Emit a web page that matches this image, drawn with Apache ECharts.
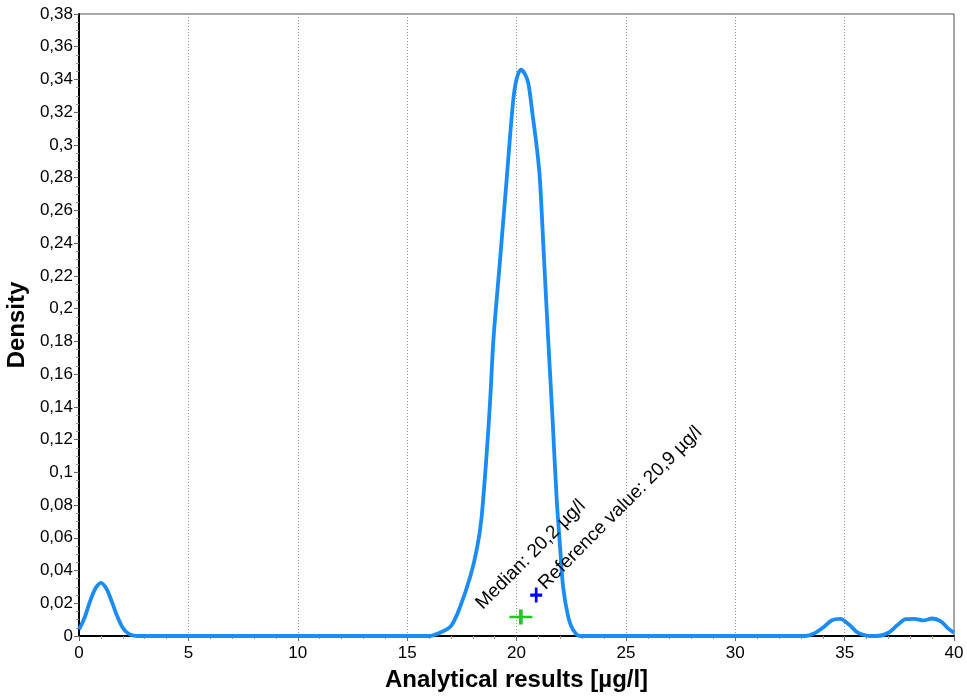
<!DOCTYPE html>
<html>
<head>
<meta charset="utf-8">
<script src="https://cdn.jsdelivr.net/npm/echarts@6/dist/echarts.min.js"></script>
<style>
  html, body { margin: 0; padding: 0; background: #fff; }
  #chart { width: 967px; height: 696px; }
</style>
</head>
<body>
<div id="chart"></div>
<script>
// density curve
const resultX = [0, 0.25, 0.5, 0.75, 1.0, 1.25, 1.5, 1.75, 2.0, 2.25, 2.5, 3,
  16, 16.5, 17, 17.4, 17.9, 18.2, 18.4, 18.65, 18.8, 18.95, 19.25, 19.55, 19.84,
  20.0, 20.2, 20.4, 20.55, 20.75, 20.94, 21.07, 21.26, 21.45, 21.65, 21.84, 22.0,
  22.13, 22.36, 22.58, 22.9, 24,
  33.2, 33.6, 34, 34.4, 34.8, 35.2, 35.6, 36, 36.5, 37, 37.4, 37.8, 38.2, 38.6,
  39, 39.4, 39.7, 40]
const density = [0.004, 0.011, 0.021, 0.029, 0.0325, 0.029, 0.021, 0.012, 0.005, 0.0015, 0.0003, 0,
  0, 0.002, 0.006, 0.017, 0.037, 0.054, 0.072, 0.114, 0.145, 0.182, 0.23, 0.279, 0.326,
  0.34, 0.346, 0.343, 0.337, 0.317, 0.297, 0.279, 0.23, 0.181, 0.132, 0.083, 0.053,
  0.03, 0.012, 0.004, 0, 0,
  0, 0.0015, 0.005, 0.0095, 0.0105, 0.007, 0.002, 0.0003, 0, 0.002, 0.0065, 0.0103, 0.0105, 0.0095,
  0.0107, 0.009, 0.005, 0.002]

// markers
const medianPoint = [20.2, 0.0116]
const referencePoint = [20.9, 0.025]
const medianLabel = 'Median: 20,2 µg/l'
const referenceLabel = 'Reference value: 20,9 µg/l'

const fmt = v => String(Math.round(v * 1000) / 1000).replace('.', ',')

let chart = echarts.init(document.getElementById('chart'))

chart.setOption({
  backgroundColor: '#ffffff',
  animation: false,
  textStyle: { fontFamily: 'Liberation Sans, Arial, sans-serif' },
  grid: {
    left: 79, right: 13, top: 14, bottom: 60,
    outerBoundsMode: 'none',
    containLabel: false,
    show: true, borderColor: '#555', borderWidth: 1
  },
  xAxis: {
    type: 'value',
    min: 0, max: 40, interval: 5,
    name: 'Analytical results [µg/l]',
    nameLocation: 'middle',
    nameGap: 32,
    nameTextStyle: { fontSize: 24, fontWeight: 'bold', color: '#000' },
    axisLine: { lineStyle: { color: '#000', width: 2 } },
    axisTick: { length: 5, lineStyle: { color: '#666' } },
    minorTick: { show: true, splitNumber: 5, length: 3, lineStyle: { color: '#999' } },
    axisLabel: { fontSize: 17, color: '#000', margin: 9 },
    splitLine: { show: true, lineStyle: { color: '#999', type: [1, 2] } }
  },
  yAxis: {
    type: 'value',
    min: 0, max: 0.38, interval: 0.02,
    name: 'Density',
    nameLocation: 'middle',
    nameGap: 48,
    nameTextStyle: { fontSize: 24, fontWeight: 'bold', color: '#000' },
    axisLine: { show: true, lineStyle: { color: '#000', width: 2 } },
    axisTick: { show: true, length: 5, lineStyle: { color: '#666' } },
    minorTick: { show: true, splitNumber: 4, length: 3, lineStyle: { color: '#999' } },
    axisLabel: { fontSize: 17, color: '#000', margin: 6, formatter: fmt },
    splitLine: { show: false }
  },
  series: [
    {
      type: 'line',
      data: resultX.map((x, i) => [x, density[i]]),
      smooth: 0.3,
      symbol: 'none',
      lineStyle: { color: '#1a8cf5', width: 3.8 },
      z: 2
    },
    {
      type: 'scatter',
      data: [medianPoint],
      symbol: 'path://M0,5L10,5M5,0L5,10',
      symbolSize: [23, 15],
      itemStyle: { color: 'none', borderColor: '#1ec81e', borderWidth: 3, opacity: 1 },
      label: {
        show: true,
        formatter: medianLabel,
        position: 'inside',
        align: 'left',
        verticalAlign: 'middle',
        rotate: 45,
        offset: [-22, -37],
        fontSize: 19,
        color: '#000',
        textBorderWidth: 0
      },
      z: 3
    },
    {
      type: 'scatter',
      data: [referencePoint],
      symbol: 'path://M0,5L10,5M5,0L5,10',
      symbolSize: [12, 15],
      itemStyle: { color: 'none', borderColor: '#0000ff', borderWidth: 3, opacity: 1 },
      label: {
        show: true,
        formatter: referenceLabel,
        position: 'inside',
        align: 'left',
        verticalAlign: 'middle',
        rotate: 45,
        offset: [10, -2],
        fontSize: 19,
        color: '#000',
        textBorderWidth: 0
      },
      z: 3
    }
  ]
})
</script>
</body>
</html>
